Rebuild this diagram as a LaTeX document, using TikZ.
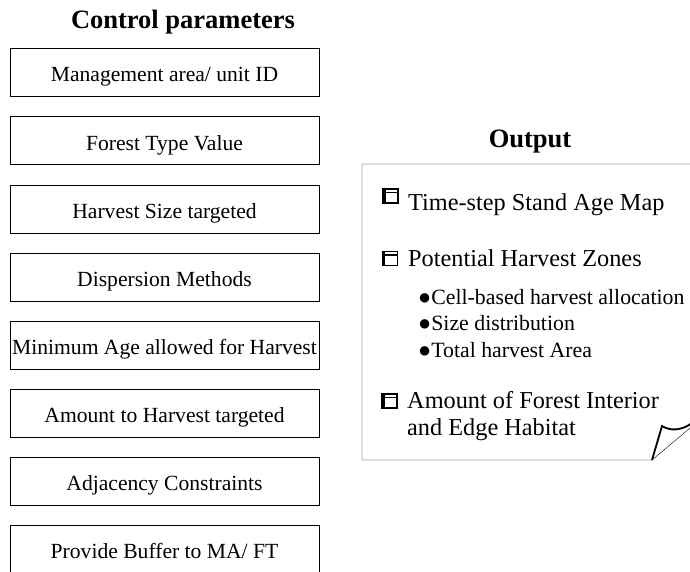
\documentclass[tikz,border=0pt]{standalone}
\usepackage{fontspec}
\setmainfont{Liberation Serif}
\usepackage{tikz}
\usetikzlibrary{positioning}
\tikzset{line width=2.4bp, parbox/.style={draw, rectangle, minimum width=309bp, minimum height=48bp, inner sep=0pt, text height=20bp, text depth=1bp, font=\fontsize{21.6bp}{25bp}\selectfont}, heading/.style={anchor=base, inner sep=0pt, font=\fontsize{26.5bp}{30bp}\selectfont\bfseries}, outitem/.style={anchor=base west, inner sep=0pt, align=left, font=\fontsize{24.3bp}{27bp}\selectfont}, subitem/.style={anchor=base west, inner sep=0pt, font=\fontsize{21.8bp}{26bp}\selectfont}, winicon/.pic={\draw[line width=1.8bp] (-7.5,-7) rectangle (7.5,7); \draw[line width=1.6bp] (-7.5,-3.6) -- (7.5,-3.6); \draw[line width=3bp] (-6.2,-7) -- (-6.2,7);}}

\begin{document}
\begin{tikzpicture}[x=1bp, y=-1bp]
	\def \pitch {68.1}
	\useasboundingbox (0,0) rectangle (690,572);
	\clip (0,0) rectangle (690,572);
	% control parameters
	\node[heading] at (183,29) (CtrlTitle) {Control parameters};
	\node[parbox] at (164.5, {72.5+\pitch*0}) (MgmtArea) {Management area/ unit ID};
	\node[parbox] at (164.5, {72.5+\pitch*1}) (ForestType) {Forest Type Value};
	\node[parbox] at (164.5, {72.5+\pitch*2}) (HarvestSize) {Harvest Size targeted};
	\node[parbox] at (164.5, {72.5+\pitch*3}) (Dispersion) {Dispersion Methods};
	\node[parbox] at (164.5, {72.5+\pitch*4}) (MinAge) {Minimum Age allowed for Harvest};
	\node[parbox] at (164.5, {72.5+\pitch*5}) (HarvestAmount) {Amount to Harvest targeted};
	\node[parbox] at (164.5, {72.5+\pitch*6}) (Adjacency) {Adjacency Constraints};
	\node[parbox] at (164.5, {72.5+\pitch*7}) (Buffer) {Provide Buffer to MA/ FT};
	% output sheet
	\node[heading] at (530,148) (OutTitle) {Output};
	\draw (700,164) -- (362,164) -- (362,460) -- (652,460) -- (696,423);
	\draw[line width=1.8bp] (652,460) -- (662,426) .. controls (670,431) and (681,431) .. (692,423);
	\pic (IconMap) at (390.5,196) {winicon};
	\pic (IconZones) at (390,258.5) {winicon};
	\pic (IconHabitat) at (389.5,401) {winicon};
	\node[outitem] at (408,210) (StandAge) {Time-step Stand Age Map};
	\node[outitem] at (408,266) (Zones) {Potential Harvest Zones};
	\node[subitem] at (418,304) (CellBased) {●Cell-based harvest allocation};
	\node[subitem] at (418,330.5) (SizeDist) {●Size distribution};
	\node[subitem] at (418,357) (TotalArea) {●Total harvest Area};
	\node[outitem] at (407,408) (Interior) {Amount of Forest Interior};
	\node[outitem] at (407,435) (Edge) {and Edge Habitat};
\end{tikzpicture}
\end{document}
